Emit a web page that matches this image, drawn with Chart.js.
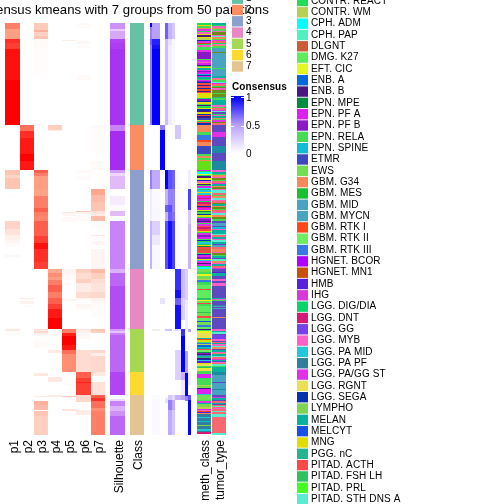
<!DOCTYPE html>
<html>
<head>
<meta charset="utf-8">
<title>Consensus kmeans</title>
<script src="https://cdn.jsdelivr.net/npm/chart.js@4"></script>
<style>
  html, body { margin: 0; padding: 0; background: #fff; }
  canvas { display: block; }
</style>
</head>
<body>
<canvas id="chart" width="504" height="504"></canvas>
<script>
// every column is a list of [rows, value] runs, top to bottom
const p1 = [[6,.6],[10,.5],[4,.85],[6,.8],[31,.95],[45,1],[45,0],[5,.3],[3,.22],[11,.3],[7,0],[1,.02],[24,0],[8,.22],[6,.15],[5,.08],[3,.05],[4,.02],[8,0],[2,.04],[72,0],[2,.12],[3,.02],[1,.04]];
const p2 = [[102,0],[6,.65],[7,.85],[16,.92],[7,1],[9,.92],[128,0],[1,.12],[2,0],[3,.07],[2,0],[1,.03]];
const p3 = [[7,.27],[2,.4],[4,.24],[3,.3],[1,.04],[9,.03],[26,.015],[50,0],[45,0],[3,.7],[3,.6],[13,.5],[7,.48],[12,.6],[4,.7],[4,.6],[5,.58],[15,.7],[7,.8],[6,.95],[6,.85],[7,.85],[7,.8],[60,0],[1,.2],[1,.1],[2,.2],[1,.08],[2,.04],[6,.01],[6,.03],[25,0],[3,.12],[20,0],[1,.1],[4,0],[4,.4],[5,.35],[1,0],[5,.3],[19,.25]];
const p4 = [[102,0],[5,.25],[1,.1],[39,0],[99,0],[4,.45],[4,.55],[3,.5],[5,.6],[7,.7],[6,.6],[6,.7],[5,.8],[9,.92],[11,1],[21,0],[3,.1],[24,0],[5,.12],[13,0],[2,.1]];
const p5 = [[17,0],[1,.1],[171,0],[1,.12],[3,.05],[1,0],[5,.03],[47,0],[6,.05],[5,.03],[3,0],[2,.03],[14,0],[2,.05],[28,0],[4,.6],[3,.9],[9,1],[5,.92],[4,.65],[18,.55],[12,0],[1,.03],[11,0],[1,.25],[1,.05],[11,0],[2,.15]];
const p6 = [[3,.03],[1,0],[1,.05],[13,0],[3,.04],[2,0],[2,.03],[27,0],[5,.03],[90,0],[3,.03],[3,0],[4,.02],[31,0],[1,.3],[2,.05],[1,0],[6,.03],[48,0],[4,.25],[6,.18],[4,.25],[9,.1],[6,.18],[2,.05],[4,0],[3,.05],[3,.03],[19,0],[1,.15],[3,.08],[6,.03],[11,0],[22,.18],[6,.7],[4,.8],[1,.9],[12,.8],[7,.2],[8,0],[5,.1]];
const p7 = [[102,0],[6,.03],[22,.02],[8,0],[9,.03],[19,0],[6,.45],[7,.35],[9,.3],[3,.15],[2,.1],[5,.35],[3,0],[4,.02],[7,0],[1,.12],[4,.02],[1,0],[4,.05],[4,0],[20,.05],[4,.35],[6,.25],[4,.18],[9,.15],[6,.2],[4,.06],[3,.03],[13,.02],[11,0],[2,.3],[2,.25],[17,0],[3,.2],[3,.08],[16,.2],[4,.12],[6,0],[13,.15],[3,.7],[3,.85],[7,.65],[3,.55],[24,.6]];
const silhouette = [[6,.55],[2,.25],[8,.45],[4,.85],[6,.88],[76,.92],[6,.6],[39,.95],[3,.5],[3,.2],[13,.35],[7,0],[9,.1],[6,.03],[5,.35],[5,0],[48,.6],[4,.4],[13,.72],[43,.82],[2,.5],[2,.3],[2,.6],[37,.72],[23,.85],[4,0],[2,.2],[5,.6],[5,.4],[5,.55],[19,.72]];
const classRuns = [[102,0],[45,1],[99,2],[60,3],[43,4],[23,5],[40,6]];

const consensusA = [[4,1],[12,.6],[6,.7],[80,.6],[45,0],[19,.6],[32,.1],[48,.4]];
const consensusB = [[16,.5],[6,.9],[4,.95],[76,1],[45,0],[19,.45],[19,.03],[13,.05],[14,.25],[10,.12],[24,.04],[60,0],[2,.1],[64,0],[40,.03]];
const consensusC = [[102,0],[5,.6],[40,1],[128,0],[6,.15]];
const consensusD = [[16,.7],[86,.35],[45,0],[19,1],[16,.4],[7,.7],[9,.4],[48,.75],[60,0],[2,.3],[67,0],[5,.15]];
const consensusE = [[16,.4],[6,.15],[80,.1],[45,0],[19,.75],[16,.6],[7,.75],[9,.7],[48,.95],[60,0],[2,.35],[64,0],[5,.3],[10,.6],[25,.45]];
const consensusF = [[16,.3],[86,.05],[45,0],[19,.7],[23,.6],[9,.65],[48,.8],[60,0],[66,0],[5,.2],[10,.45],[25,.3]];
const consensusG = [[102,0],[14,.3],[31,0],[99,.02],[21,.85],[8,.95],[7,.7],[24,.95],[2,.2],[19,0],[22,.25],[8,.25],[15,0],[5,.4]];
const consensusH = [[246,0],[29,.35],[22,.25],[9,0],[7,.85],[36,1],[8,.4],[15,.1],[5,.5]];
const consensusI = [[246,0],[31,.25],[30,.1],[21,0],[22,.5],[23,1],[5,.6]];
const consensusJ = [[147,0],[19,.1],[21,.8],[14,.3],[45,.4],[60,0],[3,.5],[40,0],[13,.1],[10,0],[5,.75],[35,1]];

// [rows, index into annotationColors], one list per class
const tumorG1 = [[2,37],[1,0],[2,30],[1,16],[2,12],[1,30],[3,46],[1,30],[1,44],[2,16],[1,12],[1,33],[2,45],[1,0],[1,30],[1,16],[2,12],[4,18],[1,46],[15,18],[1,12],[7,18],[2,37],[1,30],[1,16],[2,12],[1,44],[1,33],[2,45],[1,0],[1,46],[2,30],[3,46],[1,12],[3,46],[1,40],[2,12],[5,37],[2,30],[1,12],[2,45],[1,33],[1,44],[2,47],[1,0],[1,30],[2,37],[1,16],[1,12],[2,33],[1,46],[2,45]];
const tumorG2 = [[7,47],[5,33],[9,47],[7,48],[8,47],[9,48]];
const tumorG3 = [[2,30],[2,37],[1,12],[2,16],[1,30],[2,46],[1,12],[2,45],[1,33],[2,37],[1,16],[2,46],[1,30],[3,44],[2,45],[1,12],[2,16],[2,44],[1,30],[2,45],[1,46],[2,37],[1,16],[2,46],[1,12],[2,45],[1,30],[2,44],[2,16],[2,46],[2,12],[2,47],[3,18],[1,47],[2,13],[1,30],[4,37],[1,44],[2,45],[2,37],[1,30],[2,44],[2,37],[1,47],[2,18],[2,45],[3,16],[1,30],[2,46],[1,12],[2,37],[1,47],[2,44],[2,16],[1,30],[2,37],[2,45],[1,33]];
const tumorG4 = [[3,47],[1,25],[3,37],[3,47],[2,30],[2,47],[3,30],[12,47],[1,37],[1,30],[1,12],[4,47],[1,32],[1,18],[1,47],[1,18],[8,47],[1,16],[11,47]];
const tumorG5 = [[2,30],[1,37],[2,44],[1,47],[4,29],[2,30],[1,47],[1,45],[1,37],[2,30],[1,44],[2,16],[1,47],[2,37],[1,30],[1,16],[2,37],[1,44],[2,45],[1,33],[1,37],[1,47],[1,30],[1,45],[2,44],[1,12],[5,37]];
const tumorG6 = [[3,48],[7,18],[1,47],[6,18],[1,48],[5,18]];
const tumorG7 = [[2,47],[1,33],[2,37],[1,47],[2,45],[1,37],[1,47],[1,45],[1,44],[1,45],[1,30],[2,45],[1,44],[2,45],[3,44],[16,45],[2,44]];

const methG1 = [[2,0],[1,39],[2,12],[1,16],[2,33],[1,0],[2,30],[1,39],[2,8],[1,39],[2,1],[1,35],[2,33],[1,24],[1,0],[2,30],[3,12],[2,33],[7,11],[1,12],[2,33],[1,30],[2,10],[1,8],[1,12],[1,39],[2,37],[1,33],[1,11],[2,10],[1,13],[1,35],[1,10],[2,37],[1,0],[1,33],[1,11],[1,35],[2,41],[1,8],[2,41],[1,35],[2,20],[1,8],[1,41],[5,39],[1,0],[2,11],[1,35],[2,39],[1,12],[1,8],[2,0],[1,39],[2,35],[1,8],[2,39],[1,35],[1,41],[2,8],[2,14],[1,39],[1,0],[1,41],[2,35]];
const methG2 = [[7,16],[3,12],[5,22],[2,20],[4,16],[8,14],[2,12],[2,16],[2,12],[1,16],[9,49]];
const methG3 = [[1,10],[1,0],[2,2],[1,6],[1,0],[2,8],[2,6],[1,35],[2,30],[1,39],[1,8],[1,0],[2,10],[1,2],[1,42],[2,31],[1,39],[2,31],[1,41],[2,10],[1,28],[2,33],[1,0],[2,28],[2,41],[1,35],[1,28],[2,10],[1,39],[1,9],[2,12],[1,35],[2,39],[1,0],[1,10],[2,11],[1,8],[1,10],[1,0],[2,33],[1,41],[2,28],[2,41],[1,39],[1,0],[2,33],[2,11],[2,10],[1,12],[1,35],[1,0],[2,31],[1,27],[1,39],[1,9],[2,41],[2,4],[2,41],[1,12],[1,35],[2,10],[2,11],[1,39],[1,31],[2,33],[1,8],[2,10],[1,0],[2,2]];
const methG4 = [[3,15],[2,12],[2,6],[3,15],[1,1],[2,22],[1,0],[2,12],[4,5],[1,41],[8,5],[2,42],[1,6],[2,15],[1,41],[2,12],[6,5],[1,42],[3,15],[2,41],[3,5],[1,38],[3,15],[2,22],[2,5]];
const methG5 = [[1,8],[1,12],[2,6],[5,34],[1,37],[1,20],[2,39],[1,12],[1,22],[1,1],[2,7],[1,13],[1,37],[1,41],[2,21],[1,9],[1,11],[1,8],[1,22],[2,40],[1,8],[1,35],[1,31],[2,25],[1,39],[2,34],[1,12],[1,42],[1,6],[2,34]];
const methG6 = [[3,12],[4,10],[1,0],[6,12],[1,1],[2,15],[1,8],[5,10]];
const methG7 = [[1,31],[5,15],[1,12],[2,33],[1,37],[2,15],[1,36],[2,1],[1,10],[1,30],[1,20],[1,25],[1,16],[3,32],[1,31],[3,32],[1,13],[3,32],[1,36],[3,32],[2,31],[1,32],[2,28]];

const classLabels = ['1', '2', '3', '4', '5', '6', '7'];
const classColors = ['#66C2A5', '#FC8D62', '#8DA0CB', '#E78AC3', '#A6D854', '#FFD92F', '#E5C494'];

const tumorLabels = ['CONTR. REACT', 'CONTR. WM', 'CPH. ADM', 'CPH. PAP', 'DLGNT', 'DMG. K27', 'EFT. CIC', 'ENB. A', 'ENB. B', 'EPN. MPE', 'EPN. PF A', 'EPN. PF B', 'EPN. RELA', 'EPN. SPINE', 'ETMR', 'EWS', 'GBM. G34', 'GBM. MES', 'GBM. MID', 'GBM. MYCN', 'GBM. RTK I', 'GBM. RTK II', 'GBM. RTK III', 'HGNET. BCOR', 'HGNET. MN1', 'HMB', 'IHG', 'LGG. DIG/DIA', 'LGG. DNT', 'LGG. GG', 'LGG. MYB', 'LGG. PA MID', 'LGG. PA PF', 'LGG. PA/GG ST', 'LGG. RGNT', 'LGG. SEGA', 'LYMPHO', 'MELAN', 'MELCYT', 'MNG', 'PGG. nC', 'PITAD. ACTH', 'PITAD. FSH LH', 'PITAD. PRL', 'PITAD. STH DNS A'];
const tumorColors = ['#22DD55', '#B8D050', '#00FFFF', '#50F0C0', '#CC5C38', '#5CEC5C', '#E2F820', '#0068DC', '#481880', '#008C40', '#E020F0', '#8818C8', '#44DC54', '#10BCD4', '#3C48C0', '#70E050', '#F48858', '#18C030', '#48A4C0', '#48A4C0', '#FF4818', '#70EC60', '#3878E4', '#B000FF', '#C85000', '#5820D8', '#D838D8', '#08D468', '#D81878', '#7840E8', '#FF60C8', '#20C8DC', '#30809C', '#E030E8', '#ECE050', '#0830B0', '#80D454', '#08B0A0', '#1850E8', '#E0DC00', '#24B490', '#FF4848', '#30C060', '#40FF20', '#58ECD0'];
// classes whose legend rows fall off the bottom of the picture
const offLegendColors = ['#F5696F', '#6E8C14', '#5D4AC0', '#1C8AA0', '#62E018'];
const annotationColors = tumorColors.concat(offLegendColors);

const tumorRuns = [].concat(tumorG1, tumorG2, tumorG3, tumorG4, tumorG5, tumorG6, tumorG7);
const methRuns = [].concat(methG1, methG2, methG3, methG4, methG5, methG6, methG7);

const FONT = '"Liberation Sans", Arial, sans-serif';
const ROWS = 412;

// colour ramps, white at 0 through a middle stop to the full colour at 1
const ramp = (mid, full) => (v) => {
  const a = v < 0.5 ? [255, 255, 255] : mid;
  const b = v < 0.5 ? mid : full;
  const t = v < 0.5 ? v * 2 : (v - 0.5) * 2;
  return `rgb(${a.map((c, i) => Math.round(c + (b[i] - c) * t)).join(',')})`;
};
const redRamp = ramp([255, 158, 129], [255, 0, 0]);
const blueRamp = ramp([184, 160, 255], [0, 0, 255]);
const purpleRamp = ramp([210, 157, 247], [160, 32, 240]);

const pickClass = (i) => classColors[i];
const pickAnnotation = (i) => annotationColors[i];

const columns = [
  { label: 'p1', runs: p1, width: 15, color: redRamp },
  { label: 'p2', runs: p2, width: 14, color: redRamp },
  { label: 'p3', runs: p3, width: 14, color: redRamp },
  { label: 'p4', runs: p4, width: 14, color: redRamp },
  { label: 'p5', runs: p5, width: 14, color: redRamp },
  { label: 'p6', runs: p6, width: 15, color: redRamp },
  { label: 'p7', runs: p7, width: 14, color: redRamp },
  { width: 5 },
  { label: 'Silhouette', runs: silhouette, width: 15, color: purpleRamp },
  { width: 5 },
  { label: 'Class', runs: classRuns, width: 14, color: pickClass, keepZero: true },
  { width: 6 },
  { runs: consensusA, width: 2, color: blueRamp },
  { runs: consensusB, width: 8, color: blueRamp },
  { runs: consensusC, width: 5, color: blueRamp },
  { runs: consensusD, width: 3, color: blueRamp },
  { runs: consensusE, width: 4, color: blueRamp },
  { runs: consensusF, width: 3, color: blueRamp },
  { runs: consensusG, width: 6, color: blueRamp },
  { runs: consensusH, width: 4, color: blueRamp },
  { runs: consensusI, width: 3, color: blueRamp },
  { runs: consensusJ, width: 3, color: blueRamp },
  { width: 6 },
  { label: 'meth_class', runs: methRuns, width: 14, color: pickAnnotation, keepZero: true },
  { width: 1 },
  { label: 'tumor_type', runs: tumorRuns, width: 14, color: pickAnnotation, keepZero: true },
];

let offset = 0;
columns.forEach((c) => {
  c.center = offset + c.width / 2;
  offset += c.width;
});
const xMax = offset;

const toDataset = (column) => {
  const data = [];
  const colors = [];
  let row = 0;
  column.runs.forEach(([rows, value]) => {
    if (value !== 0 || column.keepZero) {
      data.push({ x: column.center, y: [row, row + rows] });
      colors.push(column.color(value));
    }
    row += rows;
  });
  return {
    label: column.label || 'consensus',
    data,
    backgroundColor: colors,
    barThickness: column.width,
    grouped: false,
    inflateAmount: 0,
    borderWidth: 0,
  };
};

const namedColumns = columns.filter((c) => c.label);

// title and the three legends sit outside the plot area
const decorations = {
  id: 'decorations',
  afterDraw(chart) {
    const ctx = chart.ctx;
    ctx.save();
    ctx.textBaseline = 'middle';
    ctx.textAlign = 'center';
    ctx.fillStyle = '#000';
    ctx.font = `13.2px ${FONT}`;
    ctx.fillText('Consensus kmeans with 7 groups from 50 partitions', 117, 10);

    ctx.textAlign = 'left';
    ctx.letterSpacing = '0.12px';
    ctx.font = `10px ${FONT}`;
    classLabels.forEach((label, i) => {
      const y = -1.3 + i * 11.3;
      ctx.fillStyle = classColors[i];
      ctx.fillRect(232, y - 5.2, 11, 10.4);
      ctx.fillStyle = '#000';
      ctx.fillText(label, 246, y);
    });

    ctx.font = `bold 10px ${FONT}`;
    ctx.fillText('Consensus', 232, 87);
    const gradient = ctx.createLinearGradient(0, 97, 0, 153);
    gradient.addColorStop(0, 'rgb(0,0,255)');
    gradient.addColorStop(0.5, 'rgb(184,160,255)');
    gradient.addColorStop(1, 'rgb(255,255,255)');
    ctx.fillStyle = gradient;
    ctx.fillRect(231, 96, 13, 57);
    ctx.fillStyle = '#fff';
    [97, 126].forEach((y) => {
      ctx.fillRect(231, y, 3, 1);
      ctx.fillRect(241, y, 3, 1);
    });
    ctx.fillStyle = '#000';
    ctx.font = `10px ${FONT}`;
    ctx.fillText('1', 246, 98);
    ctx.fillText('0.5', 246, 126.5);
    ctx.fillText('0', 246, 154);

    tumorLabels.forEach((label, i) => {
      const y = 1 + i * 11.32;
      ctx.fillStyle = tumorColors[i];
      ctx.fillRect(297, y - 5.2, 11, 10.4);
      ctx.fillStyle = '#000';
      ctx.fillText(label, 311, y);
    });
    ctx.restore();
  },
};

new Chart(document.getElementById('chart').getContext('2d'), {
  type: 'bar',
  data: { datasets: columns.filter((c) => c.runs).map(toDataset) },
  plugins: [decorations],
  options: {
    responsive: false,
    animation: false,
    devicePixelRatio: 1,
    layout: { padding: { left: 5, right: 278, top: 23, bottom: 0 } },
    plugins: { legend: { display: false }, tooltip: { enabled: false }, title: { display: false } },
    scales: {
      x: {
        type: 'linear',
        min: 0,
        max: xMax,
        offset: false,
        grid: { display: false },
        border: { display: false },
        afterBuildTicks: (scale) => {
          scale.ticks = namedColumns.map((c) => ({ value: c.center }));
        },
        afterFit: (scale) => {
          scale.height = 69;
        },
        ticks: {
          autoSkip: false,
          minRotation: 90,
          maxRotation: 90,
          padding: -3,
          labelOffset: 2,
          color: '#000',
          font: { family: FONT, size: 12 },
          callback: (value) => {
            const found = namedColumns.find((c) => c.center === value);
            return found ? found.label : '';
          },
        },
      },
      y: {
        type: 'linear',
        reverse: true,
        min: 0,
        max: ROWS,
        display: false,
      },
    },
  },
});
</script>
</body>
</html>
